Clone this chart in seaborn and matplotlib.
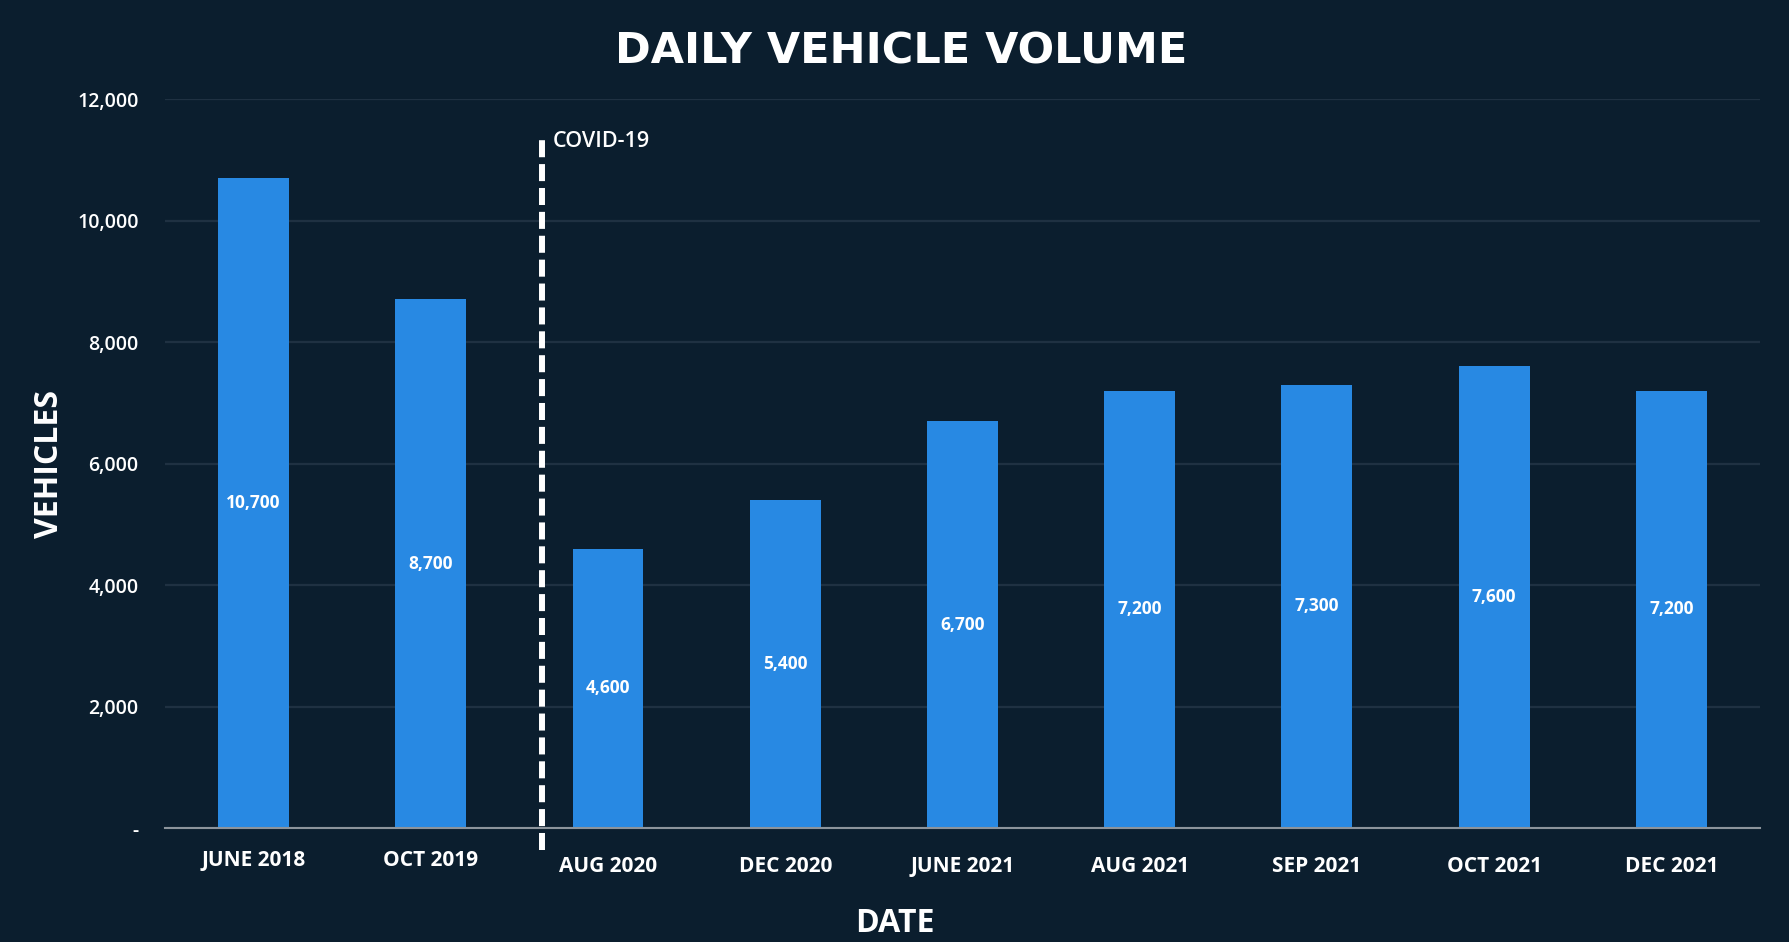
import matplotlib
matplotlib.use("Agg")
import matplotlib.pyplot as plt
import matplotlib.transforms as mtransforms
import seaborn as sns
import pandas as pd

# Data
dates = ["JUNE 2018", "OCT 2019", "AUG 2020", "DEC 2020", "JUNE 2021",
         "AUG 2021", "SEP 2021", "OCT 2021", "DEC 2021"]
vehicles = [10700, 8700, 4600, 5400, 6700, 7200, 7300, 7600, 7200]
y_ticks = [0, 2000, 4000, 6000, 8000, 10000, 12000]
covid_pos = 1.63
covid_label = "COVID-19"

bg = "#0b1e2e"
bar_color = "#2889e3"
grid_color = "#1f3142"

sns.set_theme(style="dark")
plt.rcParams["font.family"] = ["Open Sans", "DejaVu Sans"]
plt.rcParams["figure.facecolor"] = bg
plt.rcParams["axes.facecolor"] = bg

df = pd.DataFrame({"date": dates, "vehicles": vehicles})

fig = plt.figure(figsize=(17.89, 9.42), dpi=100)
ax = fig.add_axes([0.0922, 0.121, 0.8916, 0.7739])

sns.barplot(data=df, x="date", y="vehicles", color=bar_color, saturation=1,
            width=0.4, linewidth=0, edgecolor="none", ax=ax)

ax.set_xlim(-0.5, len(dates) - 0.5)
ax.set_ylim(0, 12000)
ax.set_yticks(y_ticks)
ax.set_yticklabels(["-" if v == 0 else f"{v:,}" for v in y_ticks])
ax.grid(axis="y", color=grid_color, linewidth=1.6)
ax.grid(axis="x", visible=False)
ax.set_axisbelow(True)

for side in ["top", "right", "left"]:
    ax.spines[side].set_visible(False)
ax.spines["bottom"].set_color("#8c949c")
ax.spines["bottom"].set_linewidth(1.5)

ax.tick_params(axis="y", length=0, pad=19, labelsize=14, labelcolor="white")
ax.tick_params(axis="x", length=0, pad=20, labelsize=15, labelcolor="white")
for lbl in ax.get_yticklabels():
    lbl.set_fontweight("semibold")
for i, lbl in enumerate(ax.get_xticklabels()):
    lbl.set_fontweight("bold")
    if i < 2:
        lbl.set_transform(lbl.get_transform() +
                          mtransforms.ScaledTranslation(0, 4 / 72, fig.dpi_scale_trans))

# value labels in the middle of each bar
for i, v in enumerate(vehicles):
    ax.text(i, v / 2, f"{v:,}", ha="center", va="center", color="white",
            fontsize=12.5, fontweight="bold")

# COVID-19 marker
ax.plot([covid_pos, covid_pos], [-360, 11370], color="white", linewidth=4.3,
        dashes=(2.85, 1.15), dash_capstyle="butt", clip_on=False, zorder=5)
ax.text(covid_pos + 0.06, 11300, covid_label, ha="left", va="center",
        color="white", fontsize=15.5, fontweight="semibold")

ax.set_xlabel("DATE", color="white", fontsize=23, fontweight="bold")
ax.set_ylabel("VEHICLES", color="white", fontsize=23, fontweight="bold")
ax.yaxis.set_label_coords(-0.062, 0.5)
ax.xaxis.set_label_coords(0.4575, -0.108)

fig.text(0.5035, 0.945, "DAILY VEHICLE VOLUME", ha="center", va="center",
         color="white", fontsize=31, fontweight="bold",
         family=["DejaVu Sans"])

fig.savefig("out.png", dpi=100, facecolor=bg)
